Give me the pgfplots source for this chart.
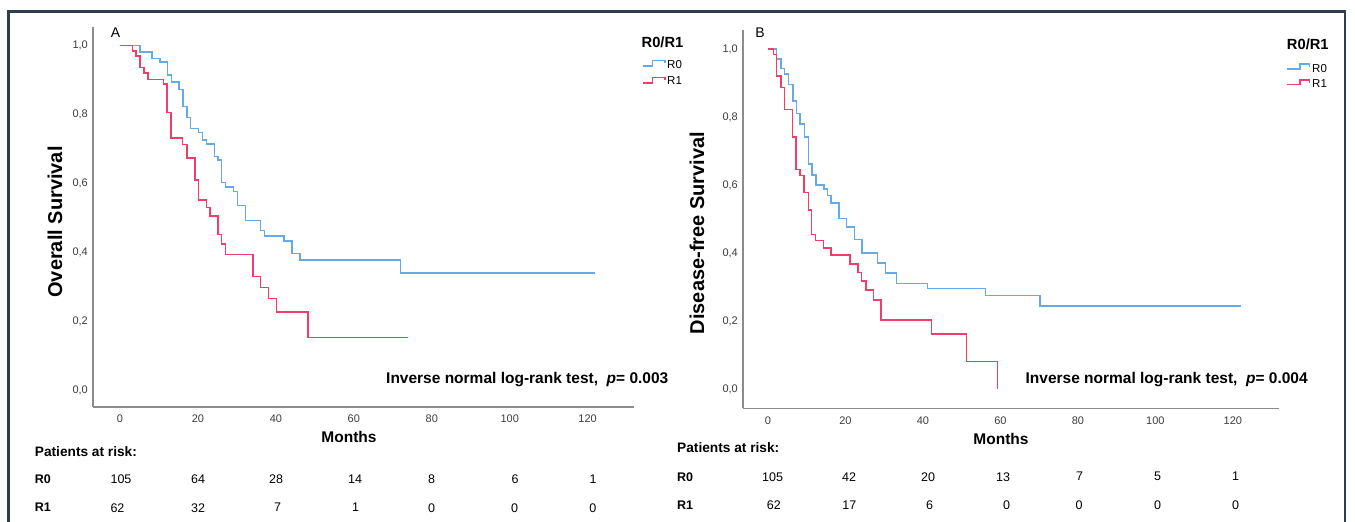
\documentclass[border=0pt]{standalone}
\usepackage{fontspec}
\setmainfont{Liberation Sans}
\usepackage{pgfplots}
\pgfplotsset{compat=1.18}
\definecolor{rzero}{RGB}{100,170,232}
\definecolor{rone}{RGB}{240,62,104}
\definecolor{axgray}{RGB}{140,140,140}
\definecolor{tickc}{RGB}{60,60,60}
\definecolor{framec}{RGB}{45,62,80}
\pgfplotsset{kmstyle/.style={
  scale only axis, anchor=south west,
  axis x line*=bottom, axis y line*=left,
  axis line style={axgray, line width=1.3pt},
  xtick={0,20,...,120}, ytick={0,0.2,0.4,0.6,0.8,1.0},
  major tick length=0pt,
  /pgf/number format/assume math mode=true,
  yticklabel={\pgfmathprintnumber[use comma,fixed,fixed zerofill,precision=1]{\tick}},
  yticklabel style={font=\fontsize{11}{13}\selectfont, text=tickc, anchor=east, inner sep=0pt, xshift=-5pt},
  xticklabel style={font=\fontsize{11}{13}\selectfont, text=tickc, anchor=north, inner sep=0pt, yshift=-8pt},
  clip=false,
}}
\begin{document}
\begin{tikzpicture}
\path[use as bounding box] (0,0) rectangle (1355pt,522pt);
% Panel A
\begin{axis}[kmstyle, at={(93pt,115pt)}, width=541pt, height=380pt,
  xmin=-6.93, xmax=131.9, ymin=-0.0494, ymax=1.054]
\addplot[const plot, rzero, line width=1.5pt] coordinates {
(0,1) (5.1,0.981) (8.2,0.963) (10.2,0.952) (12.2,0.915) (13.2,0.894) (15.2,0.873) (16.2,0.823) (17.2,0.791) (18.1,0.759) (20.2,0.747) (21.2,0.726) (22.2,0.714) (24.2,0.678) (25.1,0.668) (26.1,0.602) (27.1,0.590) (29.1,0.576) (30.2,0.535) (32.2,0.492) (36.1,0.463) (37.1,0.447) (42.1,0.433) (44.1,0.397) (46.2,0.377) (72.0,0.339) (122,0.339)};
\addplot[const plot, rone, line width=1.5pt] coordinates {
(0,1) (3.2,0.985) (4.1,0.970) (5.1,0.936) (6.2,0.920) (7.2,0.902) (11.1,0.888) (12.1,0.805) (13.1,0.732) (16.1,0.713) (17.2,0.674) (19.2,0.610) (20.1,0.552) (22.2,0.530) (23.1,0.505) (25.1,0.451) (26.1,0.424) (27.1,0.394) (34.1,0.329) (36.1,0.297) (38.1,0.265) (40.2,0.227) (48.2,0.153) (74,0.153)};
\end{axis}
% Panel B
\begin{axis}[kmstyle, at={(743pt,113.7pt)}, width=536pt, height=378.3pt,
  xmin=-6.45, xmax=131.9, ymin=-0.0558, ymax=1.056]
\addplot[const plot, rzero, line width=1.5pt] coordinates {
(0,1) (2.2,0.971) (3.3,0.943) (4.3,0.926) (5.3,0.896) (6.4,0.847) (7.3,0.811) (8.3,0.780) (9.4,0.742) (10.4,0.662) (11.4,0.630) (12.4,0.600) (14.4,0.589) (15.4,0.569) (16.3,0.547) (18.3,0.502) (20.3,0.477) (22.3,0.440) (24.2,0.401) (28.3,0.371) (30.3,0.342) (33.2,0.311) (41.2,0.297) (56.2,0.276) (70.2,0.245) (122,0.245)};
\addplot[const plot, rone, line width=1.5pt] coordinates {
(0,1) (1.4,0.984) (2.2,0.921) (3.3,0.887) (4.2,0.823) (6.3,0.742) (7.2,0.646) (8.3,0.629) (9.3,0.578) (10.4,0.527) (11.2,0.455) (12.2,0.438) (14.3,0.416) (16.3,0.394) (21.2,0.369) (23.2,0.344) (24.1,0.318) (25.3,0.292) (27.2,0.262) (29.2,0.204) (42.2,0.163) (51.3,0.081) (59.3,0)};
\end{axis}
\begin{scope}[x=1pt, y=-1pt, shift={(0,522pt)}]
% frame
\draw[framec, line width=2.2pt] (8.5,530) -- (8.5,11.5) -- (1345,11.5) -- (1345,530);
% ---------- Panel A texts
\node[font=\fontsize{14}{16}\selectfont] at (115.5,33) {A};
\node[font=\bfseries\fontsize{20}{24}\selectfont, rotate=90] at (55,222) {Overall Survival};
\node[font=\bfseries\fontsize{14.7}{17}\selectfont] at (662.5,42) {R0/R1};
\draw[rzero, line width=1.3pt] (642.7,66) -- (652.3,66) -- (652.3,60.3) -- (665,60.3) -- (665,63);
\draw[rone, line width=1.3pt] (642.7,83) -- (652.3,83) -- (652.3,77.3) -- (665,77.3) -- (665,80);
\node[font=\fontsize{11.5}{13}\selectfont, anchor=west, inner sep=0pt] at (667,64.3) {R0};
\node[font=\fontsize{11.5}{13}\selectfont, anchor=west, inner sep=0pt] at (667,81) {R1};
\node[font=\bfseries\fontsize{15.5}{18}\selectfont, anchor=west, inner sep=0pt] at (386,379.5) {Inverse normal log-rank test,\ \ \textit{p}= 0.003};
\node[font=\bfseries\fontsize{15.5}{18}\selectfont] at (349,437) {Months};
\node[font=\bfseries\fontsize{13.7}{16}\selectfont, anchor=west, inner sep=0pt] at (34.7,451.7) {Patients at risk:};
\node[font=\bfseries\fontsize{12.5}{15}\selectfont, anchor=west, inner sep=0pt] at (34.7,479.5) {R0};
\node[font=\bfseries\fontsize{12.5}{15}\selectfont, anchor=west, inner sep=0pt] at (34.7,507.7) {R1};
\foreach \xx/\tt in {121/105, 198/64, 276/28, 355/14, 431.5/8, 515/6, 593/1}
  \node[font=\fontsize{12.5}{15}\selectfont] at (\xx,479.5) {\tt};
\foreach \xx/\tt in {117.5/62, 198/32, 277.5/7, 355.6/1, 431.5/0, 514.7/0, 592.8/0}
  \node[font=\fontsize{12.5}{15}\selectfont] at (\xx,507.7) {\tt};
% ---------- Panel B texts
\node[font=\fontsize{14}{16}\selectfont] at (760,33) {B};
\node[font=\bfseries\fontsize{20}{24}\selectfont, rotate=90] at (697,233) {Disease-free Survival};
\node[font=\bfseries\fontsize{14.7}{17}\selectfont] at (1307.8,44.5) {R0/R1};
\draw[rzero, line width=1.3pt] (1287.3,69) -- (1300,69) -- (1300,64) -- (1309.3,64) -- (1309.3,66.7);
\draw[rone, line width=1.3pt] (1287.3,84.7) -- (1300,84.7) -- (1300,80) -- (1309.3,80) -- (1309.3,82.7);
\node[font=\fontsize{11.5}{13}\selectfont, anchor=west, inner sep=0pt] at (1312,68.3) {R0};
\node[font=\fontsize{11.5}{13}\selectfont, anchor=west, inner sep=0pt] at (1312,83.3) {R1};
\node[font=\bfseries\fontsize{15.5}{18}\selectfont, anchor=west, inner sep=0pt] at (1025.4,379.3) {Inverse normal log-rank test,\ \ \textit{p}= 0.004};
\node[font=\bfseries\fontsize{15.5}{18}\selectfont] at (1001,439) {Months};
\node[font=\bfseries\fontsize{13.7}{16}\selectfont, anchor=west, inner sep=0pt] at (677,447.5) {Patients at risk:};
\node[font=\bfseries\fontsize{12.5}{15}\selectfont, anchor=west, inner sep=0pt] at (677,476.7) {R0};
\node[font=\bfseries\fontsize{12.5}{15}\selectfont, anchor=west, inner sep=0pt] at (677,505) {R1};
\foreach \xx/\tt in {772.6/105, 849/42, 928/20, 1003/13, 1079.6/7, 1157.6/5, 1235.7/1}
  \node[font=\fontsize{12.5}{15}\selectfont] at (\xx,476.7) {\tt};
\foreach \xx/\tt in {773.9/62, 849.3/17, 929.6/6, 1006.7/0, 1079.2/0, 1157.6/0, 1235.7/0}
  \node[font=\fontsize{12.5}{15}\selectfont] at (\xx,505) {\tt};
\end{scope}
\end{tikzpicture}
\end{document}
